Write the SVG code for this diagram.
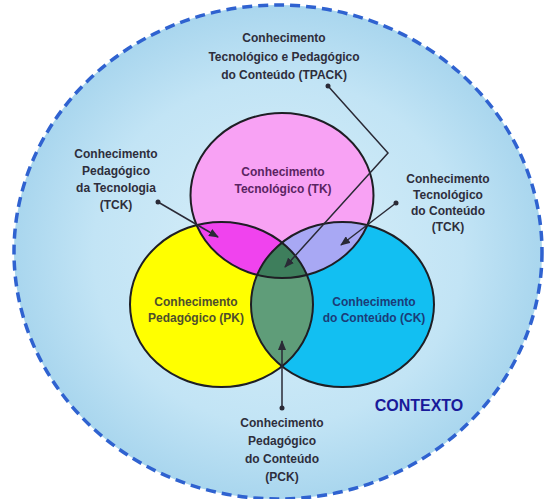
<svg xmlns="http://www.w3.org/2000/svg" width="546" height="499" viewBox="0 0 546 499">
<style>
.lbl{font-family:"Liberation Sans",Arial,sans-serif;font-weight:bold;font-size:12px;text-anchor:middle;fill:#2e2e3c}
.ring{fill:none;stroke:#1e1e24;stroke-width:2}
.conn{fill:none;stroke:#2a2a36;stroke-width:1.5}
</style>
<defs>
<radialGradient id="ctx" cx="0.5" cy="0.5" r="0.5">
<stop offset="0" stop-color="#d9eff9"/>
<stop offset="0.7" stop-color="#c2e4f5"/>
<stop offset="1" stop-color="#a9d6ee"/>
</radialGradient>
<clipPath id="cTK"><ellipse cx="282" cy="195.5" rx="91.5" ry="82.5"/></clipPath>
<clipPath id="cPK"><ellipse cx="221.5" cy="304.5" rx="91.5" ry="82.5"/></clipPath>
<clipPath id="cCK"><ellipse cx="342.5" cy="304.5" rx="91.5" ry="82.5"/></clipPath>
<marker id="arr" markerWidth="10" markerHeight="8" refX="9" refY="4" orient="auto" markerUnits="userSpaceOnUse">
<path d="M0,0 L10,4 L0,8 z" fill="#2a2a36"/>
</marker>
<marker id="dot" markerWidth="6" markerHeight="6" refX="3" refY="3" markerUnits="userSpaceOnUse">
<circle cx="3" cy="3" r="2.5" fill="#2a2a36"/>
</marker>
</defs>
<rect width="546" height="499" fill="#ffffff"/>
<g id="contexto">
<ellipse cx="278" cy="252" rx="264" ry="247" fill="url(#ctx)" stroke="#2f62d0" stroke-width="3.5" stroke-dasharray="10 6"/>
<text x="419" y="411" style="font-family:'Liberation Sans',Arial,sans-serif;font-weight:bold;font-size:16px;text-anchor:middle;fill:#19199a">CONTEXTO</text>
</g>
<g id="pk">
<ellipse cx="221.5" cy="304.5" rx="91.5" ry="82.5" fill="#ffff00"/>
</g>
<g id="ck">
<ellipse cx="342.5" cy="304.5" rx="91.5" ry="82.5" fill="#12bff2"/>
</g>
<g id="tk">
<ellipse cx="282" cy="195.5" rx="91.5" ry="82.5" fill="#f8a2f4"/>
</g>
<g id="overlaps">
<g clip-path="url(#cTK)"><ellipse cx="221.5" cy="304.5" rx="91.5" ry="82.5" fill="#f043ee"/></g>
<g clip-path="url(#cTK)"><ellipse cx="342.5" cy="304.5" rx="91.5" ry="82.5" fill="#a8a8f4"/></g>
<g clip-path="url(#cPK)"><ellipse cx="342.5" cy="304.5" rx="91.5" ry="82.5" fill="#5f9d79"/></g>
<g clip-path="url(#cPK)"><g clip-path="url(#cCK)"><ellipse cx="282" cy="195.5" rx="91.5" ry="82.5" fill="#3e7e5c"/></g></g>
</g>
<g id="outlines">
<ellipse class="ring" cx="221.5" cy="304.5" rx="91.5" ry="82.5"/>
<ellipse class="ring" cx="342.5" cy="304.5" rx="91.5" ry="82.5"/>
<ellipse class="ring" cx="282" cy="195.5" rx="91.5" ry="82.5"/>
</g>
<g id="tk-label">
<text class="lbl" x="283" y="176" style="fill:#5a2462">Conhecimento</text>
<text class="lbl" x="283" y="193" style="fill:#5a2462">Tecnológico (TK)</text>
</g>
<g id="pk-label">
<text class="lbl" x="196" y="306" style="fill:#4e4e2c">Conhecimento</text>
<text class="lbl" x="196" y="322" style="fill:#4e4e2c">Pedagógico (PK)</text>
</g>
<g id="ck-label">
<text class="lbl" x="374" y="306" style="fill:#1b3c78">Conhecimento</text>
<text class="lbl" x="374" y="322" style="fill:#1b3c78">do Conteúdo (CK)</text>
</g>
<g id="tpack-label">
<text class="lbl" x="284" y="42">Conhecimento</text>
<text class="lbl" x="284" y="60.5">Tecnológico e Pedagógico</text>
<text class="lbl" x="284" y="79">do Conteúdo (TPACK)</text>
</g>
<g id="tpk-label">
<text class="lbl" x="116" y="158">Conhecimento</text>
<text class="lbl" x="116" y="175">Pedagógico</text>
<text class="lbl" x="116" y="192">da Tecnologia</text>
<text class="lbl" x="116" y="209">(TCK)</text>
</g>
<g id="tck-label">
<text class="lbl" x="448" y="183">Conhecimento</text>
<text class="lbl" x="448" y="199">Tecnológico</text>
<text class="lbl" x="448" y="215">do Conteúdo</text>
<text class="lbl" x="448" y="231">(TCK)</text>
</g>
<g id="pck-label">
<text class="lbl" x="282" y="427">Conhecimento</text>
<text class="lbl" x="282" y="445">Pedagógico</text>
<text class="lbl" x="282" y="463">do Conteúdo</text>
<text class="lbl" x="282" y="481">(PCK)</text>
</g>
<g id="connectors">
<path class="conn" d="M328,86 L388,153 L285,267" marker-start="url(#dot)" marker-end="url(#arr)"/>
<path class="conn" d="M158,202 L218,237" marker-start="url(#dot)" marker-end="url(#arr)"/>
<path class="conn" d="M396,203 L341,245" marker-start="url(#dot)" marker-end="url(#arr)"/>
<path class="conn" d="M282,408 L282,341" marker-start="url(#dot)" marker-end="url(#arr)"/>
</g>
</svg>
